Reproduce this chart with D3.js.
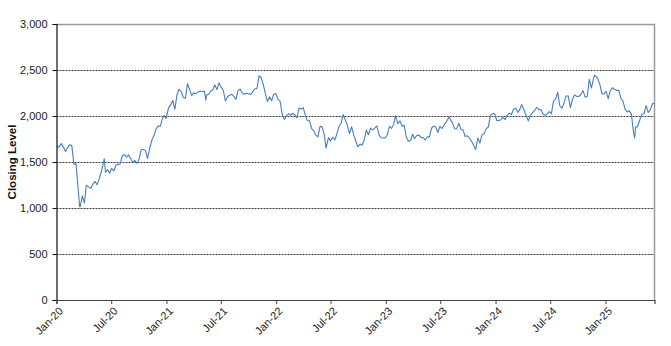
<!DOCTYPE html>
<html><head><meta charset="utf-8">
<script src="https://cdn.jsdelivr.net/npm/d3@7"></script>
<style>
body{margin:0;background:#fff}
svg{display:block}
text{font-family:"Liberation Sans",Arial,Helvetica,sans-serif}
</style>
</head><body>
<svg id="chart" width="671" height="346"></svg>
<script>
// ---- data (weekly closing levels) ----
const yTickValues = [0, 500, 1000, 1500, 2000, 2500, 3000];
const xTickLabels = ["Jan-20","Jul-20","Jan-21","Jul-21","Jan-22","Jul-22","Jan-23","Jul-23","Jan-24","Jul-24","Jan-25"];
const xTickDates = ["2020-01-01","2020-07-01","2021-01-01","2021-07-01","2022-01-01","2022-07-01","2023-01-01","2023-07-01","2024-01-01","2024-07-01","2025-01-01"];
const axisTitle = "Closing Level";

const y2020 = [["01-02",1666],["01-10",1664],["01-17",1700],["01-24",1662],["01-31",1614],["02-07",1657],["02-14",1687],["02-21",1678],["02-28",1476],["03-06",1480],["03-13",1210],["03-18",1014],["03-20",1014],["03-27",1131],["04-03",1052],["04-09",1247],["04-17",1230],["04-24",1213],["05-01",1260],["05-08",1290],["05-15",1253],["05-22",1317],["05-29",1394],["06-08",1536],["06-12",1388],["06-19",1419],["06-26",1378],["07-02",1431],["07-10",1404],["07-17",1467],["07-24",1474],["07-31",1480],["08-07",1568],["08-14",1579],["08-21",1555],["08-28",1576],["09-04",1536],["09-11",1497],["09-18",1516],["09-25",1485],["10-02",1534],["10-09",1639],["10-16",1633],["10-23",1627],["10-30",1538],["11-06",1644],["11-13",1736],["11-20",1785],["11-27",1855],["12-04",1893],["12-11",1884],["12-18",1966],["12-24",2005],["12-31",1975]];
const y2021 = [["01-08",2091],["01-15",2123],["01-22",2168],["01-29",2073],["02-05",2233],["02-12",2290],["02-19",2266],["02-26",2201],["03-05",2192],["03-12",2352],["03-19",2286],["03-26",2221],["04-01",2253],["04-09",2243],["04-16",2262],["04-23",2271],["04-30",2266],["05-07",2268],["05-12",2172],["05-14",2226],["05-21",2236],["05-28",2269],["06-04",2286],["06-11",2338],["06-18",2287],["06-25",2361],["07-02",2311],["07-09",2280],["07-16",2163],["07-23",2209],["07-30",2226],["08-06",2236],["08-13",2214],["08-20",2180],["08-27",2277],["09-03",2292],["09-10",2250],["09-17",2237],["09-24",2248],["10-01",2241],["10-08",2233],["10-15",2265],["10-22",2296],["10-29",2297],["11-05",2437],["11-12",2418],["11-19",2344],["11-26",2245],["12-03",2158],["12-10",2209],["12-17",2165],["12-23",2233],["12-31",2245]];
const y2022 = [["01-07",2180],["01-14",2162],["01-21",2022],["01-28",1963],["02-04",2003],["02-11",2024],["02-18",2009],["02-25",2030],["03-04",2014],["03-11",1979],["03-18",2086],["03-25",2077],["04-01",2091],["04-08",2009],["04-14",1954],["04-22",1946],["04-29",1864],["05-06",1839],["05-13",1792],["05-20",1773],["05-27",1887],["06-03",1882],["06-10",1801],["06-16",1649],["06-17",1665],["06-24",1765],["07-01",1728],["07-08",1770],["07-15",1739],["07-22",1806],["07-29",1885],["08-05",1921],["08-12",2016],["08-19",1958],["08-26",1899],["09-02",1809],["09-09",1883],["09-16",1798],["09-23",1725],["09-30",1665],["10-07",1695],["10-14",1682],["10-21",1742],["10-28",1847],["11-04",1796],["11-11",1869],["11-18",1849],["11-25",1869],["12-02",1893],["12-09",1797],["12-16",1763],["12-23",1761],["12-30",1761]];
const y2023 = [["01-06",1796],["01-13",1887],["01-20",1866],["01-27",1911],["02-02",2001],["02-10",1918],["02-17",1946],["02-24",1890],["03-03",1899],["03-10",1772],["03-17",1725],["03-24",1734],["03-31",1802],["04-06",1754],["04-14",1788],["04-21",1792],["04-28",1768],["05-05",1764],["05-12",1740],["05-19",1774],["05-26",1773],["06-02",1867],["06-09",1889],["06-16",1880],["06-23",1821],["06-30",1888],["07-07",1864],["07-14",1904],["07-21",1935],["07-31",1993],["08-04",1958],["08-11",1923],["08-18",1859],["08-25",1862],["09-01",1921],["09-08",1852],["09-15",1847],["09-22",1777],["09-29",1785],["10-06",1761],["10-13",1725],["10-20",1683],["10-27",1636],["11-03",1760],["11-10",1705],["11-17",1797],["11-24",1807],["12-01",1863],["12-08",1881],["12-15",2007],["12-22",2025],["12-29",2027]];
const y2024 = [["01-05",1951],["01-12",1950],["01-19",1960],["01-26",1986],["02-02",1962],["02-09",2009],["02-16",2031],["02-23",2017],["03-01",2076],["03-08",2084],["03-15",2039],["03-22",2072],["03-28",2125],["04-05",2063],["04-12",2003],["04-19",1947],["04-26",2002],["05-03",2036],["05-10",2059],["05-17",2095],["05-24",2069],["05-31",2070],["06-07",2022],["06-14",2007],["06-21",2022],["06-28",2048],["07-05",2026],["07-12",2162],["07-19",2184],["07-26",2260],["08-02",2109],["08-09",2085],["08-16",2142],["08-23",2218],["08-30",2218],["09-06",2092],["09-13",2182],["09-20",2228],["09-27",2213],["10-04",2212],["10-11",2234],["10-18",2276],["10-25",2208],["11-01",2209],["11-08",2399],["11-15",2303],["11-22",2406],["11-25",2442],["11-29",2434],["12-06",2409],["12-13",2346],["12-20",2241],["12-27",2243]];
const y2025 = [["01-03",2268],["01-10",2189],["01-17",2275],["01-24",2307],["01-31",2287],["02-07",2279],["02-14",2280],["02-21",2195],["02-28",2163],["03-07",2074],["03-14",2044],["03-21",2056],["03-28",2023],["04-04",1827],["04-08",1760],["04-11",1882],["04-17",1880],["04-25",1957],["05-02",2020],["05-09",2024],["05-16",2113],["05-23",2039],["05-30",2066],["06-06",2132],["06-13",2140]];

// ---- build series ----
const parse = d3.timeParse("%Y-%m-%d");
const years = [[2020,y2020],[2021,y2021],[2022,y2022],[2023,y2023],[2024,y2024],[2025,y2025]];
const series = [];
years.forEach(([yr, arr]) => arr.forEach(([md, v]) => series.push({date: parse(yr + "-" + md), value: v})));

// ---- layout ----
const svg = d3.select("#chart");
const pLeft = 56.5, pRight = 654.5, pTop = 24, pBottom = 300;

const x = d3.scaleTime()
  .domain([parse("2020-01-01"), series[series.length - 1].date])
  .range([pLeft, pRight]);
const y = d3.scaleLinear().domain([0, 3000]).range([pBottom, pTop]);

// gridlines (dotted) for interior ticks
svg.append("g").selectAll("line")
  .data(yTickValues.filter(v => v > 0 && v < 3000))
  .join("line")
  .attr("x1", pLeft).attr("x2", pRight)
  .attr("y1", d => Math.round(y(d)) + 0.5).attr("y2", d => Math.round(y(d)) + 0.5)
  .attr("stroke", "#3a3a3a").attr("stroke-width", 1).attr("stroke-dasharray", "2,1");

// plot border top & right (grey)
svg.append("path")
  .attr("d", `M${pLeft},${pTop + 0.5}H${pRight}V${pBottom}`)
  .attr("fill", "none").attr("stroke", "#9a9a9a").attr("stroke-width", 1.5);

// line
const line = d3.line().x(d => x(d.date)).y(d => y(d.value));
svg.append("path").datum(series)
  .attr("d", line)
  .attr("fill", "none").attr("stroke", "#4a7ebb").attr("stroke-width", 1.1)
  .attr("stroke-linejoin", "round");

// y axis
const yAxis = d3.axisLeft(y).tickValues(yTickValues).tickSize(4).tickPadding(5)
  .tickFormat(d3.format(","));
const gy = svg.append("g").attr("transform", `translate(${pLeft},0)`).call(yAxis);
gy.select(".domain").attr("stroke", "#111").attr("stroke-width", 1.2);
gy.selectAll(".tick line").attr("stroke", "#111");
gy.selectAll("text").attr("font-size", 11).attr("fill", "#222")
  .attr("font-family", "'Liberation Sans',Arial,sans-serif");

// x axis
const tickDates = xTickDates.map(parse);
const xAxis = d3.axisBottom(x).tickValues(tickDates).tickSize(4)
  .tickFormat((d, i) => xTickLabels[i]);
const gx = svg.append("g").attr("transform", `translate(0,${pBottom})`).call(xAxis);
gx.select(".domain").attr("stroke", "#444").attr("stroke-width", 1.2);
gx.selectAll(".tick line").attr("stroke", "#444");
gx.selectAll("text")
  .attr("font-size", 11).attr("fill", "#222")
  .attr("font-family", "'Liberation Sans',Arial,sans-serif")
  .attr("text-anchor", "end")
  .attr("dy", "0.35em")
  .attr("transform", "translate(4,9) rotate(-45)")
  .attr("y", 0).attr("x", 0);

// axis title
svg.append("text")
  .attr("transform", `translate(16,${(pTop + pBottom) / 2}) rotate(-90)`)
  .attr("text-anchor", "middle")
  .attr("font-size", 11.5).attr("font-weight", "bold").attr("fill", "#111")
  .text(axisTitle);
</script>
</body></html>
